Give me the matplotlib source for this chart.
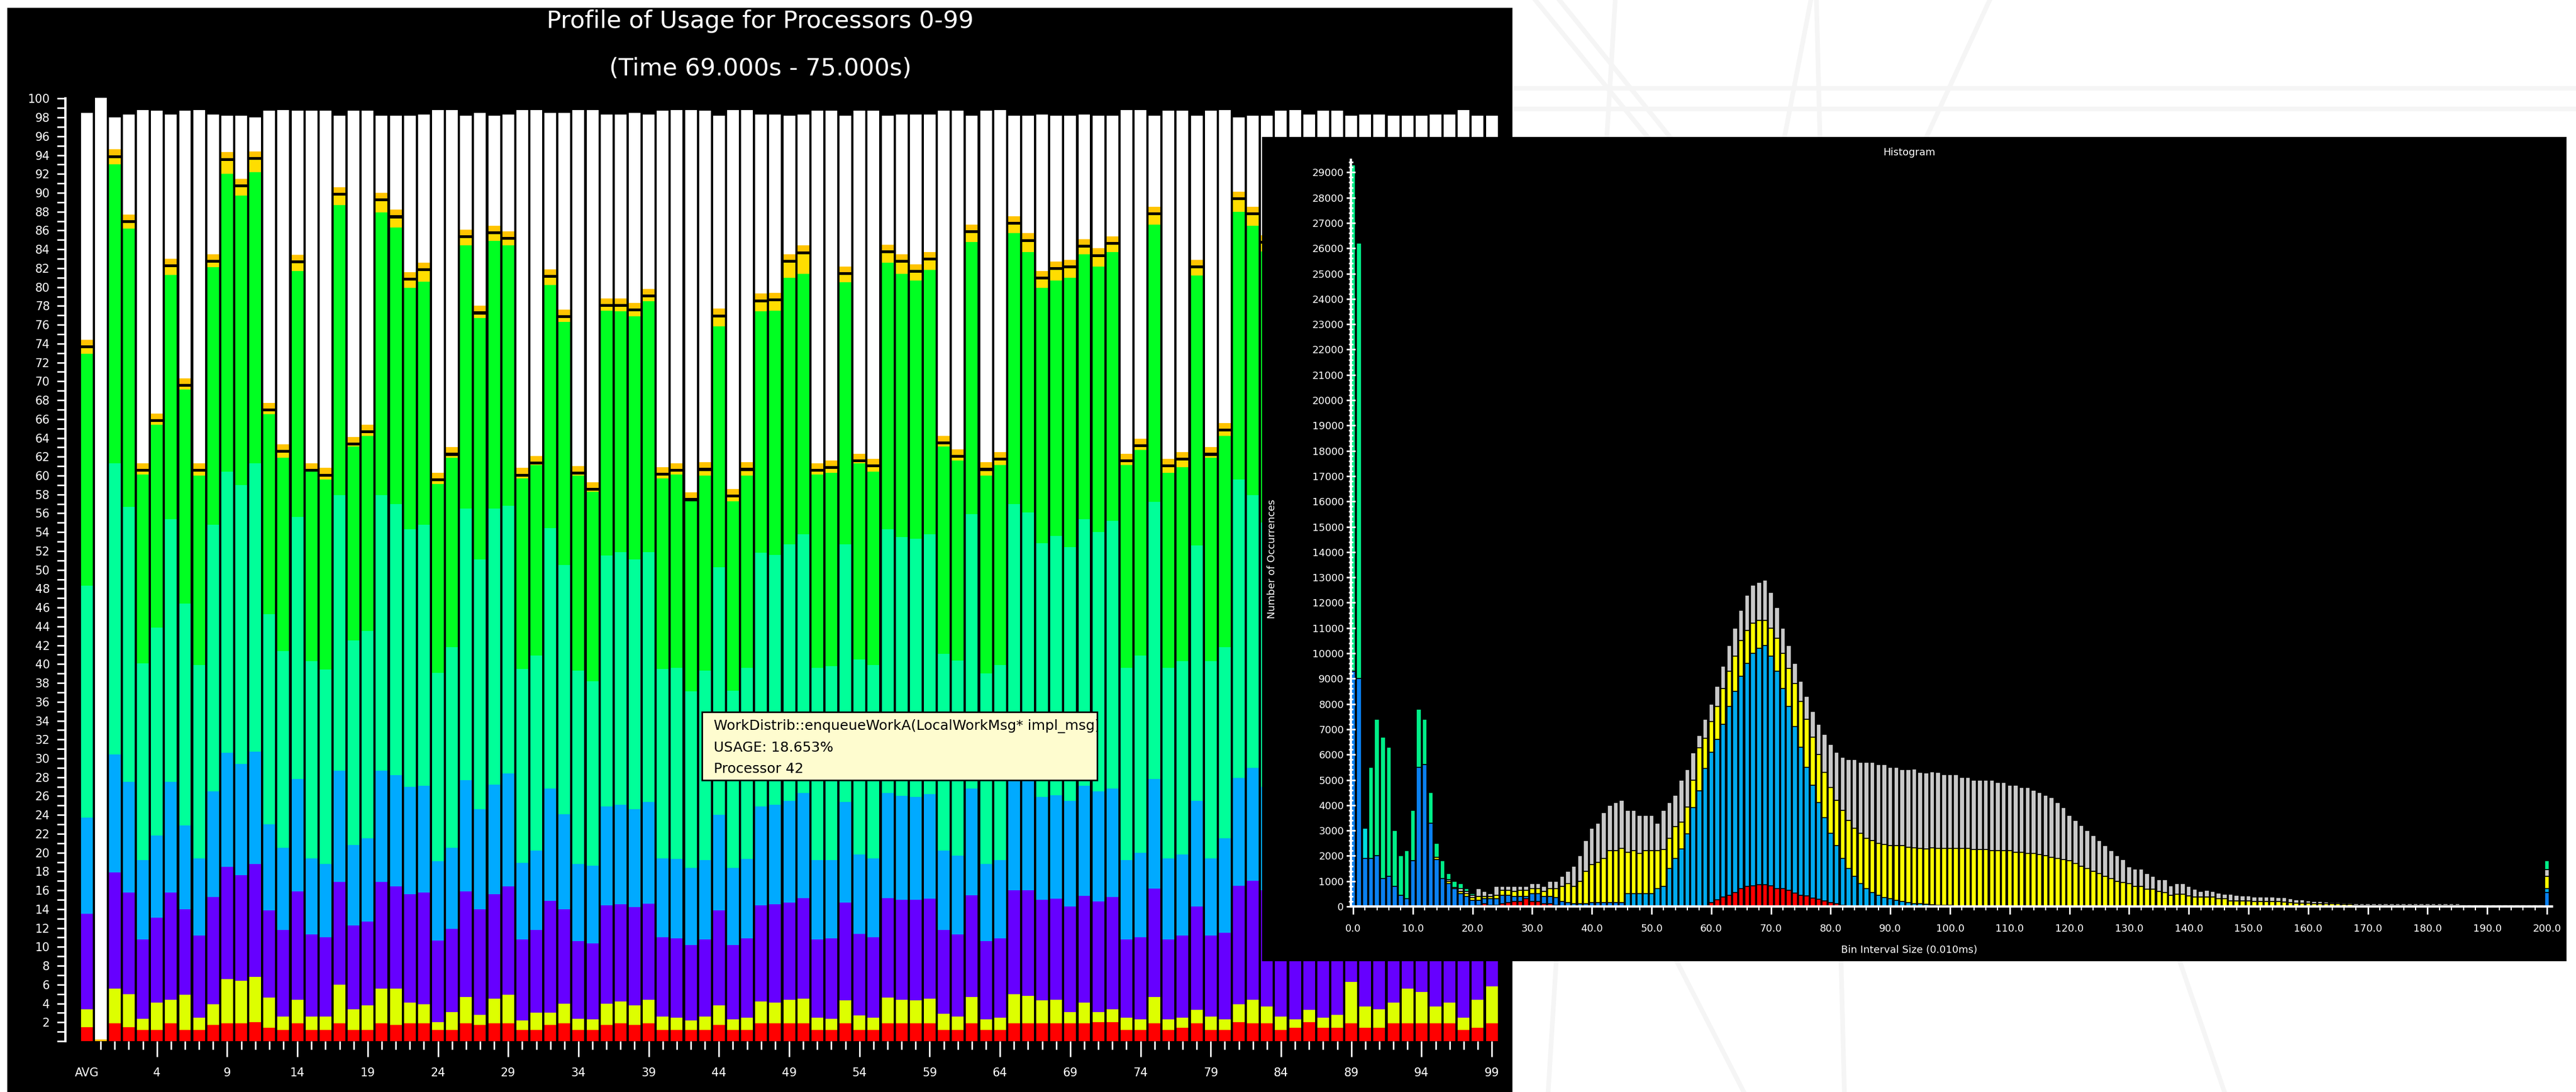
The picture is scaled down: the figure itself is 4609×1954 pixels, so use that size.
import numpy as np
import matplotlib.pyplot as plt
from matplotlib.patches import Rectangle
from matplotlib.lines import Line2D

plt.rcParams['font.family'] = ['DejaVu Sans']

W, H = 4609, 1954
DPI = 100


def fx(px):
    return px / W


def fy(py):
    return 1 - py / H


# ---------------- usage profile: cumulative tops (%) for AVG, then processors 0..99
procs = list(range(100))
bar_labels = ["AVG"] + [str(p) for p in procs]

red_top = [1.5,
    0.0, 1.9, 1.5, 1.2, 1.2, 1.9, 1.2, 1.2, 1.7, 1.9,
    1.9, 2.0, 1.4, 1.2, 1.9, 1.2, 1.2, 1.9, 1.2, 1.2,
    1.9, 1.7, 1.9, 1.9, 1.2, 1.2, 1.9, 1.7, 1.9, 1.9,
    1.2, 1.2, 1.7, 1.9, 1.2, 1.2, 1.7, 1.9, 1.7, 1.9,
    1.2, 1.2, 1.2, 1.2, 1.7, 1.2, 1.2, 1.9, 1.9, 1.9,
    1.9, 1.2, 1.2, 1.9, 1.2, 1.2, 1.9, 1.9, 1.9, 1.9,
    1.2, 1.2, 1.9, 1.2, 1.2, 1.9, 1.9, 1.9, 1.9, 1.9,
    1.9, 2.0, 2.0, 1.2, 1.2, 1.9, 1.2, 1.4, 1.9, 1.2,
    1.2, 2.0, 1.9, 1.9, 1.2, 1.4, 2.0, 1.4, 1.4, 1.9,
    1.4, 1.4, 1.9, 1.9, 1.9, 1.9, 1.9, 1.2, 1.4, 1.9]
lime_top = [3.4,
    0.0, 5.6, 5.0, 2.4, 4.1, 4.4, 4.9, 2.5, 3.9, 6.6,
    6.4, 6.8, 4.6, 2.6, 4.4, 2.6, 2.6, 6.0, 3.4, 3.8,
    5.6, 5.6, 4.1, 3.9, 2.0, 3.1, 4.7, 2.8, 4.5, 4.9,
    2.2, 3.0, 3.0, 4.0, 2.4, 2.3, 4.0, 4.2, 3.8, 4.4,
    2.6, 2.5, 2.2, 2.6, 3.8, 2.3, 2.5, 4.2, 4.1, 4.4,
    4.5, 2.5, 2.4, 4.3, 2.7, 2.5, 4.6, 4.4, 4.3, 4.5,
    2.9, 2.6, 4.7, 2.3, 2.5, 5.0, 4.8, 4.3, 4.4, 3.1,
    4.1, 3.1, 3.4, 2.5, 2.3, 4.7, 2.3, 2.5, 3.3, 2.6,
    2.3, 3.9, 4.4, 3.7, 2.6, 2.3, 3.3, 2.5, 2.8, 6.3,
    3.7, 3.4, 4.1, 5.6, 5.2, 3.7, 4.1, 2.5, 4.4, 5.8]
purple_top = [13.5,
    0.0, 17.9, 15.8, 10.8, 13.1, 15.8, 14.0, 11.2, 15.3, 18.5,
    17.6, 18.8, 13.9, 11.8, 15.9, 11.3, 11.0, 16.9, 12.3, 12.7,
    16.9, 16.4, 15.6, 15.8, 10.7, 11.9, 15.9, 14.0, 15.6, 16.4,
    10.8, 11.8, 14.9, 14.0, 10.6, 10.4, 14.4, 14.5, 14.2, 14.6,
    11.0, 10.9, 10.2, 10.8, 13.9, 10.2, 10.9, 14.4, 14.5, 14.7,
    15.2, 10.8, 10.9, 14.7, 11.4, 11.0, 15.2, 15.0, 15.0, 15.1,
    11.8, 11.3, 15.5, 10.6, 10.9, 16.0, 16.0, 15.0, 15.1, 14.3,
    15.4, 14.8, 15.3, 10.8, 11.0, 16.2, 10.8, 11.2, 14.3, 11.2,
    11.5, 16.5, 17.0, 16.0, 11.0, 11.0, 14.5, 11.5, 12.0, 17.5,
    14.0, 13.5, 15.5, 17.0, 16.5, 14.5, 15.0, 11.5, 15.5, 17.5]
blue_top = [23.7,
    0.0, 30.4, 27.5, 19.2, 21.8, 27.5, 22.9, 19.4, 26.5, 30.6,
    29.4, 30.7, 23.0, 20.5, 27.8, 19.4, 18.8, 28.7, 20.8, 21.5,
    28.7, 28.2, 27.0, 27.1, 19.1, 20.5, 27.7, 24.6, 27.2, 28.4,
    18.9, 20.2, 26.8, 24.1, 18.8, 18.6, 24.9, 25.1, 24.6, 25.4,
    19.4, 19.3, 18.4, 19.2, 24.0, 18.4, 19.3, 24.9, 25.1, 25.5,
    26.3, 19.2, 19.2, 25.4, 19.8, 19.4, 26.3, 26.0, 25.9, 26.2,
    20.2, 19.7, 26.8, 18.8, 19.2, 27.6, 27.6, 25.9, 26.1, 25.5,
    27.1, 26.5, 26.8, 19.2, 20.0, 27.8, 19.4, 19.8, 25.5, 19.4,
    21.5, 27.9, 29.0, 27.0, 19.3, 19.5, 25.5, 19.8, 20.5, 28.5,
    25.0, 24.5, 26.5, 28.0, 27.5, 25.5, 26.0, 20.0, 26.5, 28.5]
teal_top = [48.3,
    0.0, 61.3, 56.7, 40.1, 43.9, 55.4, 46.4, 39.9, 54.8, 60.4,
    59.0, 61.3, 45.3, 41.4, 55.6, 40.3, 39.4, 57.9, 42.5, 43.5,
    57.9, 57.0, 54.3, 54.8, 39.1, 41.8, 56.5, 51.1, 56.5, 56.8,
    39.5, 40.9, 54.4, 50.5, 39.3, 38.2, 51.5, 51.9, 51.1, 51.9,
    39.5, 39.6, 37.1, 39.3, 50.3, 37.2, 39.6, 51.8, 51.6, 52.7,
    53.8, 39.6, 39.8, 52.7, 40.5, 39.9, 54.3, 53.5, 53.3, 53.8,
    41.1, 40.4, 55.9, 39.0, 39.9, 57.0, 56.1, 52.8, 53.6, 52.4,
    55.4, 54.0, 55.2, 39.6, 40.9, 57.2, 39.6, 40.3, 52.6, 40.3,
    41.8, 59.6, 57.9, 55.0, 39.5, 40.0, 52.0, 40.5, 41.5, 57.0,
    51.0, 50.5, 54.0, 56.5, 55.5, 52.5, 53.5, 40.5, 54.0, 57.5]
green_top = [72.9,
    0.0, 93.0, 86.2, 60.1, 65.4, 81.3, 69.1, 60.0, 82.1, 92.0,
    89.7, 92.2, 66.5, 61.9, 81.7, 60.4, 59.6, 88.7, 63.1, 64.2,
    87.9, 86.3, 79.9, 80.6, 59.1, 61.9, 84.4, 76.7, 84.9, 84.4,
    59.7, 61.1, 80.2, 76.3, 60.0, 58.3, 77.5, 77.4, 76.9, 78.5,
    59.7, 60.1, 57.3, 60.0, 75.8, 57.3, 60.0, 77.4, 77.5, 81.0,
    81.4, 60.1, 60.3, 80.5, 61.3, 60.4, 82.6, 81.4, 80.7, 81.8,
    63.1, 61.6, 84.8, 60.0, 61.1, 85.7, 83.7, 79.9, 80.7, 81.0,
    83.5, 82.2, 83.7, 61.1, 62.7, 86.6, 60.3, 60.9, 81.2, 61.9,
    64.2, 88.0, 86.5, 83.8, 60.0, 61.0, 80.0, 62.0, 63.0, 87.0,
    78.0, 77.0, 82.0, 85.5, 84.0, 80.5, 81.5, 61.5, 82.5, 87.5]
cap_top = [74.4,
    0.2, 94.6, 87.7, 61.3, 66.6, 83.0, 70.3, 61.3, 83.5, 94.3,
    91.5, 94.4, 67.7, 63.3, 83.4, 61.3, 60.8, 90.6, 64.1, 65.4,
    90.0, 88.2, 81.6, 82.6, 60.3, 63.0, 86.1, 78.0, 86.5, 85.9,
    60.8, 62.1, 81.9, 77.6, 61.0, 59.3, 78.8, 78.8, 78.3, 79.8,
    60.9, 61.3, 58.2, 61.4, 77.7, 58.6, 61.4, 79.3, 79.4, 83.5,
    84.4, 61.3, 61.6, 82.2, 62.3, 61.8, 84.5, 83.5, 82.4, 83.7,
    64.2, 62.8, 86.6, 61.4, 62.5, 87.5, 85.7, 81.7, 82.7, 82.9,
    85.1, 84.1, 85.4, 62.3, 63.9, 88.5, 61.8, 62.5, 82.9, 63.0,
    65.6, 90.1, 88.5, 85.5, 61.2, 62.2, 81.5, 63.2, 64.3, 89.0,
    79.5, 78.5, 83.8, 87.3, 85.8, 82.0, 83.2, 62.7, 84.2, 89.3]
total_top = [98.5,
    100.1, 98.0, 98.3, 98.8, 98.7, 98.3, 98.7, 98.8, 98.3, 98.2,
    98.2, 98.0, 98.7, 98.8, 98.7, 98.7, 98.7, 98.2, 98.7, 98.7,
    98.2, 98.2, 98.2, 98.3, 98.8, 98.8, 98.2, 98.5, 98.2, 98.3,
    98.8, 98.8, 98.5, 98.5, 98.8, 98.8, 98.3, 98.3, 98.5, 98.3,
    98.7, 98.8, 98.8, 98.7, 98.2, 98.8, 98.8, 98.3, 98.3, 98.2,
    98.3, 98.7, 98.7, 98.2, 98.7, 98.7, 98.2, 98.3, 98.3, 98.3,
    98.7, 98.7, 98.2, 98.7, 98.8, 98.2, 98.2, 98.3, 98.2, 98.2,
    98.3, 98.2, 98.2, 98.8, 98.8, 98.2, 98.7, 98.7, 98.2, 98.7,
    98.8, 98.0, 98.2, 98.2, 98.7, 98.8, 98.3, 98.7, 98.7, 98.2,
    98.3, 98.3, 98.2, 98.2, 98.2, 98.3, 98.3, 98.8, 98.2, 98.2]

tip_lines = ["WorkDistrib::enqueueWorkA(LocalWorkMsg* impl_msg)",
             "USAGE: 18.653%", "Processor 42"]

# ---------------- histogram: counts per bin (thousands), bins 0..200
h_red = ([0.0] * 21 +
         [.05, .10, .05, .05, .10, .15, .20, .20, .30,
          .20, .20, .10, .10, .05] +
         [0.0] * 25 +
         [.16, .27, .38, .45, .56, .70, .80, .82, .86, .86,
          .82, .70, .70, .64, .52, .45, .41, .34, .28, .22,
          .15, .10, .05] +
         [0.0] * 118)
h_dblue = ([9.3, 9.0, 1.9, 1.9, 2.0, 1.1, 1.2, .8, .45, .3,
            1.8, 5.5, 5.6, 3.3, 1.85, 1.1, .9, .7, .5, .4,
            .25, .2, .2, .25, .25, .35, .3, .2, .2, .1,
            .3, .3, .3, .3, .3, .2, .15, .1, .1, .1,
            .15, .15, .15, .15, .15, .15] + [0.0] * 154 + [.55])
h_lblue = ([0.0] * 46 +
           [.5, .5, .5, .5, .5, .7, .8, 1.5, 1.9, 2.27,
            2.86, 3.9, 4.56, 5.45,
            5.94, 6.33, 6.82, 7.45, 7.94, 8.40, 8.80, 9.18, 9.34, 9.44,
            9.08, 8.60, 7.90, 7.26, 6.58, 5.85, 5.09, 4.46, 3.82, 3.28,
            2.75, 2.30, 1.85, 1.50, 1.20, .90, .70, .55, .45, .35,
            .30, .25, .20, .15, .12, .10, .08, .06, .05, .05, .05] +
           [0.0] * 99 + [.15])
h_cyan = [0.0, 0.0, 1.2] + [0.0] * 198
h_yellow = [0, 0, 0, 0, 0, 0, 0, 0, 0, 0,
            0, 0, 0, 0, .1, 0, .1, .05, .1, .1,
            .1, .15, .1, .1, .15, .2, .2, .2, .25, .25,
            .2, .2, .2, .3, .35, .6, .75, .7, .9, 1.3,
            1.5, 1.6, 1.75, 2.05, 2.05, 2.15, 1.65, 1.7, 1.6, 1.7,
            1.7, 1.5, 1.45, 1.2, 1.25, 1.07, 1.07, 1.1, 1.71, 1.19,
            1.2, 1.3, 1.4, 1.4, 1.4, 1.4, 1.3, 1.2, 1.1, 1.0,
            1.1, 1.3, 1.4, 1.5, 1.7, 1.8, 1.9, 1.9, 1.9, 1.8,
            1.8, 1.8, 1.9, 1.9, 1.9, 2.0, 2.0, 2.05, 2.05, 2.1,
            2.1, 2.15, 2.2, 2.2, 2.2, 2.2, 2.2, 2.25, 2.25, 2.25,
            2.25, 2.3, 2.3, 2.3, 2.25, 2.25, 2.25, 2.2, 2.2, 2.2,
            2.2, 2.15, 2.15, 2.1, 2.1, 2.05, 2.0, 1.95, 1.9, 1.85,
            1.8, 1.7, 1.6, 1.5, 1.4, 1.3, 1.2, 1.1, 1.0, .95,
            .90, .79, .79, .68, .68, .60, .56, .45, .49, .49,
            .43, .38, .38, .38, .38, .30, .30, .23, .23, .23,
            .23, .19, .19, .19, .19, .19, .18, .15, .13, .13,
            .13, .12, .12, .12, .11, .10, .09, .09, .05, .05,
            .05, .05, .05, .05, .05, .05, .05, .05, .05, .05,
            .05, .05, .05, .05, .05, .05, .03, .03, .03, .03,
            .03, .03, .03, .03, .03, .03, .03, .03, .03, .03,
            .5]
h_gray = [0, 0, 0, 0, 0, 0, 0, 0, 0, 0,
          0, 0, 0, 0, 0, 0, .05, 0, .1, .1,
          .1, .3, .2, .1, .35, .15, .15, .2, .15, .15,
          .2, .2, .2, .3, .3, .4, .5, .8, 1.0, 1.2,
          1.45, 1.55, 1.8, 1.8, 1.9, 1.9, 1.65, 1.6, 1.5, 1.4,
          1.4, 1.1, 1.55, 1.4, 1.25, 1.66, 1.47, 1.06, .48, .76,
          .7, .8, .9, 1.0, 1.1, 1.2, 1.4, 1.5, 1.5, 1.6,
          1.4, 1.2, 1.0, .9, .8, .8, .9, 1.0, 1.2, 1.5,
          1.7, 1.9, 2.1, 2.4, 2.7, 2.8, 3.0, 3.1, 3.1, 3.15,
          3.1, 3.1, 3.0, 3.05, 3.1, 3.0, 3.0, 3.0, 3.0, 2.9,
          2.9, 2.9, 2.8, 2.8, 2.75, 2.75, 2.75, 2.8, 2.7, 2.7,
          2.6, 2.65, 2.55, 2.6, 2.5, 2.45, 2.4, 2.35, 2.2, 2.05,
          1.8, 1.7, 1.6, 1.5, 1.4, 1.3, 1.2, 1.1, 1.0, .9,
          .67, .70, .70, .62, .51, .47, .51, .37, .41, .41,
          .36, .30, .22, .27, .22, .23, .19, .26, .22, .20,
          .20, .19, .19, .19, .19, .17, .17, .15, .13, .13,
          .10, .07, .07, .06, .05, .05, .04, .04, .05, .05,
          .05, .05, .05, .05, .05, .05, .05, .05, .05, .05,
          .05, .05, .05, .05, .05, .05, .03, .03, .03, .03,
          .03, .03, .03, .03, .03, .03, .03, .03, .03, .03,
          .25]
h_green = ([20.0, 17.2, 0, 3.6, 5.4, 5.6, 5.1, 2.2, 1.55, 1.9,
            2.0, 2.3, 1.8, 1.2, .55, .7, .25, .25, .2, .1,
            .05] + [0.0] * 179 + [.35])

fig = plt.figure(figsize=(W / DPI, H / DPI), dpi=DPI)
fig.patch.set_facecolor('white')

# faint slide background lines
for (x0, y0, x1, y1) in [(2747, 0, 2960, 260), (2790, 0, 3000, 260), (3240, 0, 3190, 260),
                         (3250, 0, 3300, 1954), (3560, 0, 3440, 260), (2890, 0, 2770, 1954),
                         (2706, 158, 4609, 158), (2706, 195, 4609, 195),
                         (3000, 1720, 3120, 1954), (3900, 1720, 3980, 1954)]:
    fig.add_artist(Line2D([fx(x0), fx(x1)], [fy(y0), fy(y1)], transform=fig.transFigure,
                          color='#f5f5f5', lw=6, zorder=-5))

fig.add_artist(Rectangle((fx(13), 0), fx(2706) - fx(13), fy(14), transform=fig.transFigure,
                         facecolor='black', edgecolor='none', zorder=0))

# ---------------- left chart
ax = fig.add_axes([fx(117), fy(1863), fx(2700) - fx(117), (1863 - 151) / H], zorder=1)
ax.set_facecolor('none')
x = np.arange(len(bar_labels))
bw = 0.835

tops = [np.array(a) for a in (red_top, lime_top, purple_top, blue_top, teal_top, green_top)]
cols = ['#ff0000', '#ddff00', '#6600ff', '#00aaff', '#00ff99', '#00ff22']
prev = np.zeros(len(x))
for t, c in zip(tops, cols):
    ax.bar(x, t - prev, bottom=prev, width=bw, color=c, linewidth=0)
    prev = t

gt = np.array(green_top)
d = np.array(cap_top) - gt
orange_h = np.minimum(0.6, d)
black_h = np.clip(d - orange_h, 0, 0.3)
gold_h = d - orange_h - black_h
ax.bar(x, gold_h, bottom=gt, width=bw, color='#ffdd00', linewidth=0)
ax.bar(x, black_h, bottom=gt + gold_h, width=bw, color='black', linewidth=0)
ax.bar(x, orange_h, bottom=gt + gold_h + black_h, width=bw, color='#ffc400', linewidth=0)
ax.bar(x, np.array(total_top) - np.array(cap_top), bottom=cap_top, width=bw,
       color='white', linewidth=0)

ax.set_xlim(-1.512, 101.23)
ax.set_ylim(0, 101.5)
for s in ['top', 'right', 'bottom']:
    ax.spines[s].set_visible(False)
ax.spines['left'].set_color('white')
ax.spines['left'].set_linewidth(3)
ax.spines['left'].set_bounds(0, 100)

major_x = [0] + list(range(5, 101, 5))
ax.set_xticks(major_x)
ax.set_xticklabels([bar_labels[i] for i in major_x])
ax.set_xticks([i for i in range(1, 101) if i not in major_x], minor=True)
ax.tick_params(axis='x', which='major', length=20, width=2, color='white',
               labelcolor='white', labelsize=15, pad=14)
ax.tick_params(axis='x', which='minor', length=11, width=2, color='white')
ax.xaxis.get_major_ticks()[0].tick1line.set_visible(False)

ax.set_yticks(range(0, 101, 2))
ax.set_yticklabels([''] + [str(v) for v in range(2, 101, 2)])
ax.set_yticks(range(1, 100, 2), minor=True)
ax.tick_params(axis='y', which='both', length=11, width=2, color='white',
               labelcolor='white', labelsize=15, pad=9)

fig.text(fx(1360), fy(38), "Profile of Usage for Processors 0-99", color='white',
         fontsize=31, ha='center', va='center')
fig.text(fx(1360), fy(123), "(Time 69.000s - 75.000s)", color='white',
         fontsize=31, ha='center', va='center')

# tooltip
tip = Rectangle((fx(1256), fy(1396)), fx(1963) - fx(1256), fy(1274) - fy(1396),
                transform=fig.transFigure, facecolor='#fefccf', edgecolor='black',
                lw=2, zorder=1.5)
fig.add_artist(tip)
for i, line in enumerate(tip_lines):
    t = fig.text(fx(1277), fy([1300, 1338, 1376][i]), line, color='black', fontsize=18,
                 ha='left', va='center', zorder=1.6)
    t.set_clip_path(tip)

# ---------------- histogram inset
fig.add_artist(Rectangle((fx(2258), fy(1720)), fx(4592) - fx(2258), fy(245) - fy(1720),
                         transform=fig.transFigure, facecolor='black', edgecolor='none',
                         zorder=2))
hx = fig.add_axes([fx(2417), fy(1622), fx(4566) - fx(2417), (1622 - 285.7) / H], zorder=3)
hx.set_facecolor('none')
bins = np.arange(201)
hbottom = np.zeros(201)
for vals, c in [(h_red, '#ff0000'), (h_dblue, '#0a80f0'), (h_lblue, '#00aaee'),
                (h_cyan, '#00dde0'), (h_yellow, '#ffff00'), (h_gray, '#c8c8c8'),
                (h_green, '#00ee88')]:
    v = np.array(vals, dtype=float) * 1000
    m = v > 0
    hx.bar(bins[m], v[m], bottom=hbottom[m], width=0.8, color=c,
           edgecolor='black', linewidth=1.2)
    hbottom += v

hx.set_xlim(-0.375, 200.84)
hx.set_ylim(0, 29500)
for s in ['top', 'right']:
    hx.spines[s].set_visible(False)
for s in ['left', 'bottom']:
    hx.spines[s].set_color('white')
    hx.spines[s].set_linewidth(3)
hx.set_yticks(range(0, 29001, 1000))
hx.set_yticks(range(0, 29501, 200), minor=True)
hx.set_xticks(range(0, 201, 10))
hx.set_xticklabels([f"{v:.1f}" for v in range(0, 201, 10)])
hx.set_xticks(range(0, 201, 2), minor=True)
hx.tick_params(axis='y', which='major', direction='inout', length=12, width=2,
               color='white', labelcolor='white', labelsize=13, pad=3)
hx.tick_params(axis='y', which='minor', direction='inout', length=6, width=2, color='white')
hx.tick_params(axis='x', which='major', direction='out', length=10, width=2,
               color='white', labelcolor='white', labelsize=13, pad=12)
hx.tick_params(axis='x', which='minor', direction='out', length=5, width=1.5, color='white')

fig.text(fx(3416), fy(273), "Histogram", color='white', fontsize=13,
         ha='center', va='center', zorder=4)
fig.text(fx(2276), fy(1000), "Number of Occurrences", color='white', fontsize=13,
         rotation=90, ha='center', va='center', zorder=4)
fig.text(fx(3416), fy(1700), "Bin Interval Size (0.010ms)", color='white', fontsize=13,
         ha='center', va='center', zorder=4)

fig.savefig('out.png', dpi=DPI, facecolor='white')
